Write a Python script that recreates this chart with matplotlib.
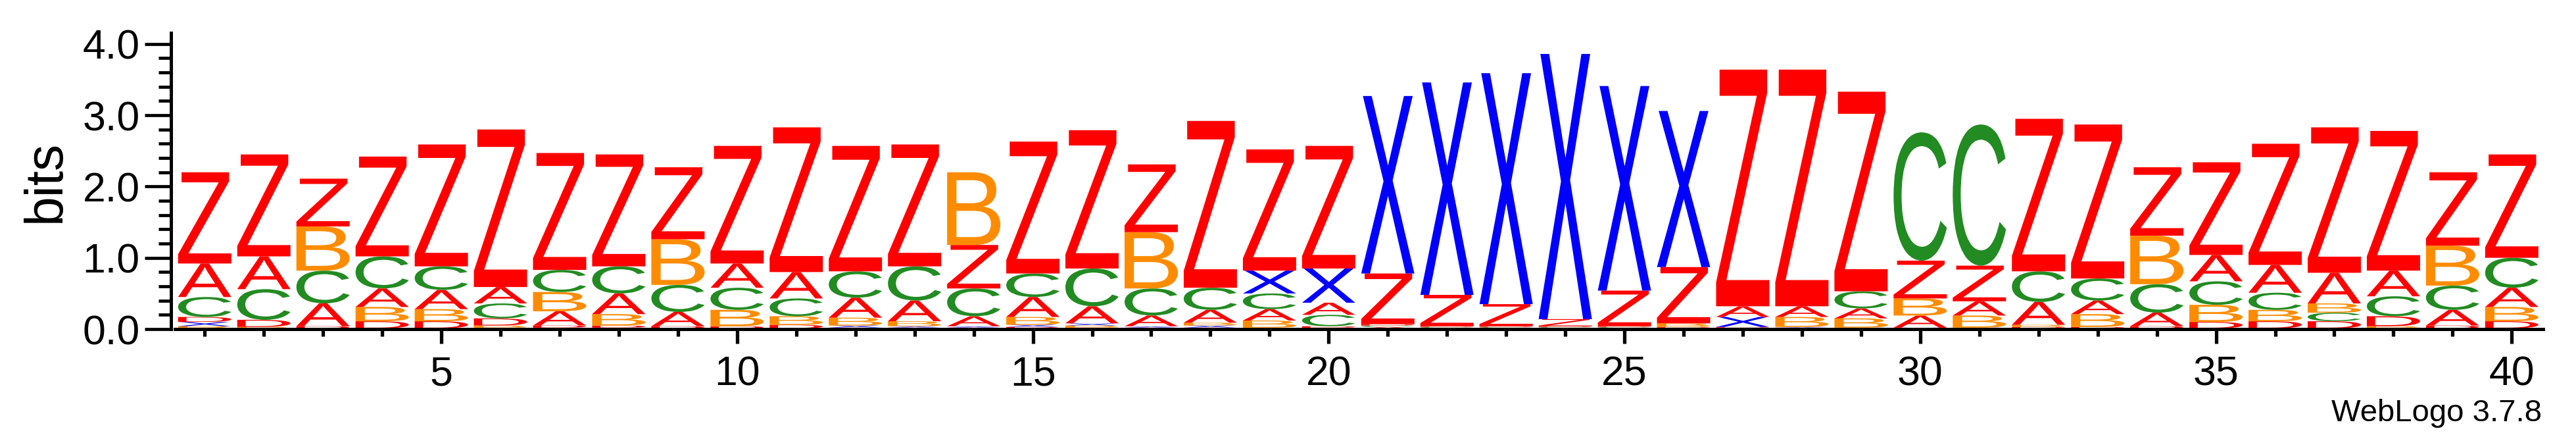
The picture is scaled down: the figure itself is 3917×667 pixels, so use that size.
import numpy as np
import matplotlib
matplotlib.use("Agg")
from matplotlib import pyplot as plt
from matplotlib.textpath import TextPath
from matplotlib.font_manager import FontProperties
from matplotlib.patches import PathPatch
from matplotlib.transforms import Affine2D
from matplotlib.ticker import MultipleLocator, FixedLocator, FormatStrFormatter

# information content (bits) per letter for positions 1..40
positions = np.arange(1, 41)
A = [0.47, 0.46, 0.32, 0.26, 0.27, 0.23, 0.20, 0.29, 0.20, 0.34,
     0.37, 0.28, 0.29, 0.14, 0.28, 0.24, 0.15, 0.18, 0.16, 0.17,
     0.02, 0.01, 0.01, 0.01, 0.01, 0.01, 0.15, 0.15, 0.14, 0.17,
     0.20, 0.32, 0.19, 0.19, 0.37, 0.39, 0.43, 0.36, 0.22, 0.27]
B = [0.04, 0.02, 0.62, 0.20, 0.17, 0.03, 0.27, 0.16, 0.64, 0.23,
     0.12, 0.11, 0.07, 1.02, 0.11, 0.03, 0.79, 0.04, 0.10, 0.02,
     0.01, 0.01, 0.01, 0.01, 0.01, 0.05, 0.01, 0.14, 0.13, 0.24,
     0.17, 0.03, 0.18, 0.68, 0.24, 0.16, 0.13, 0.03, 0.56, 0.20]
C = [0.28, 0.43, 0.46, 0.45, 0.33, 0.21, 0.31, 0.38, 0.38, 0.31,
     0.25, 0.37, 0.48, 0.39, 0.33, 0.53, 0.38, 0.31, 0.22, 0.16,
     0.02, 0.01, 0.01, 0.01, 0.01, 0.01, 0.01, 0.01, 0.24, 1.80,
     1.98, 0.43, 0.31, 0.40, 0.33, 0.24, 0.12, 0.28, 0.34, 0.42]
D = [0.07, 0.10, 0.03, 0.10, 0.10, 0.10, 0.03, 0.03, 0.03, 0.03,
     0.05, 0.02, 0.02, 0.02, 0.03, 0.02, 0.02, 0.02, 0.02, 0.02,
     0.02, 0.01, 0.01, 0.01, 0.01, 0.01, 0.01, 0.01, 0.01, 0.01,
     0.01, 0.02, 0.02, 0.03, 0.09, 0.10, 0.10, 0.14, 0.04, 0.10]
X = [0.06, 0.01, 0.01, 0.01, 0.01, 0.02, 0.02, 0.02, 0.01, 0.01,
     0.01, 0.03, 0.02, 0.02, 0.03, 0.03, 0.02, 0.03, 0.32, 0.48,
     2.49, 2.98, 3.24, 3.72, 2.87, 2.19, 0.14, 0.01, 0.01, 0.01,
     0.01, 0.01, 0.01, 0.01, 0.01, 0.01, 0.01, 0.01, 0.01, 0.01]
Z = [1.28, 1.43, 0.67, 1.40, 1.71, 2.21, 1.64, 1.57, 1.01, 1.65,
     2.03, 1.76, 1.71, 0.61, 1.85, 1.94, 0.95, 2.34, 1.70, 1.72,
     0.71, 0.44, 0.31, 0.10, 0.50, 0.79, 3.32, 3.32, 2.80, 0.53,
     0.50, 2.14, 2.16, 0.96, 1.30, 1.70, 2.04, 1.96, 1.03, 1.45]

letters = {"A": A, "B": B, "C": C, "D": D, "X": X, "Z": Z}
colors = {"A": "#ff0000", "B": "#ff8c00", "C": "#228b22",
          "D": "#ff0000", "X": "#0000ff", "Z": "#ff0000"}

glyph_font = FontProperties(family="Liberation Sans")
plt.rcParams["font.family"] = ["Liberation Sans", "DejaVu Sans"]


def draw_letter(ax, ch, x, y0, h, width=0.9):
    # stretch the glyph outline to fill its slot in the stack
    path = TextPath((0, 0), ch, size=1, prop=glyph_font)
    bb = path.get_extents()
    t = (Affine2D().translate(-bb.x0, -bb.y0)
         .scale(width / bb.width, h / bb.height)
         .translate(x - width / 2, y0))
    ax.add_patch(PathPatch(t.transform_path(path), facecolor=colors[ch],
                           edgecolor="none", lw=0))


fig = plt.figure(figsize=(39.17, 6.67), dpi=100)
ax = fig.add_axes([260 / 3917, 1 - 500 / 667, (3867 - 260) / 3917, 450 / 667])

for i, pos in enumerate(positions):
    stack = sorted(letters.keys(), key=lambda k: letters[k][i])
    y = 0.0
    for ch in stack:
        h = letters[ch][i]
        draw_letter(ax, ch, pos, y, h)
        y += h

ax.set_xlim(0.43, 40.53)
ax.set_ylim(0, 4.155)
for s in ["top", "right"]:
    ax.spines[s].set_visible(False)
ax.spines["left"].set_linewidth(3.6)
ax.spines["bottom"].set_linewidth(3.6)
ax.spines["bottom"].set_bounds(0.5, 40.53)

ax.yaxis.set_major_locator(MultipleLocator(1.0))
ax.yaxis.set_minor_locator(MultipleLocator(0.2))
ax.yaxis.set_major_formatter(FormatStrFormatter("%.1f"))
ax.xaxis.set_major_locator(FixedLocator([5, 10, 15, 20, 25, 30, 35, 40]))
ax.xaxis.set_minor_locator(FixedLocator(positions))

ax.tick_params(axis="y", which="major", length=29, width=3.4, pad=5, labelsize=45)
ax.tick_params(axis="y", which="minor", length=14, width=3.4)
ax.tick_params(axis="x", which="major", length=15.5, width=3.8, pad=13, labelsize=45)
ax.tick_params(axis="x", which="minor", length=7.7, width=3.8)

fig.text(70 / 3917, 1 - 275 / 667, "bits", rotation=90, ha="center", va="center",
         fontsize=58)
fig.text(3865 / 3917, 1 - 640 / 667, "WebLogo 3.7.8", ha="right", va="baseline",
         fontsize=34)

fig.savefig("out.png", dpi=100)
